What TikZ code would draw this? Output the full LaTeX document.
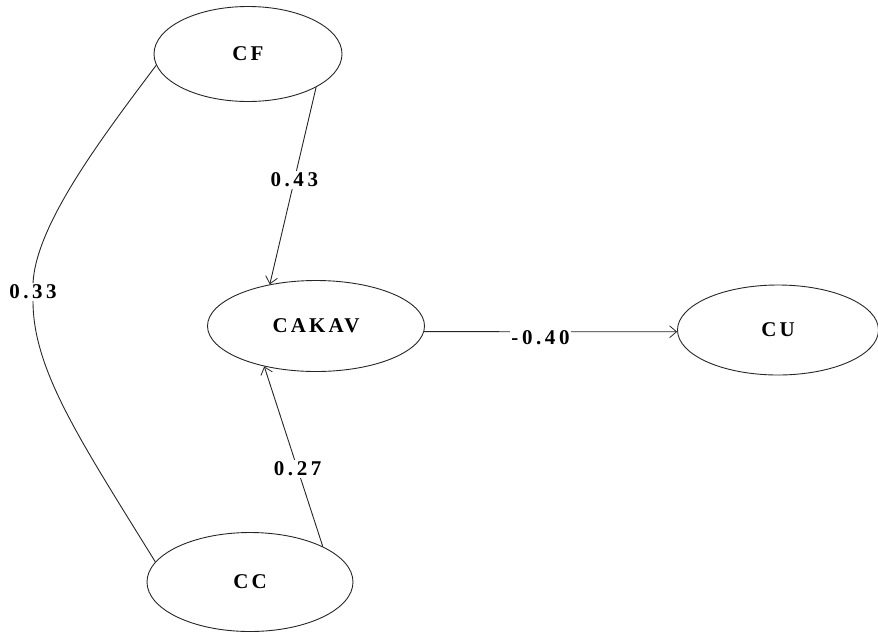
\documentclass[tikz,border=0pt]{standalone}
\usepackage{fontspec}
\setmainfont{Liberation Serif}
\newfontfamily\varfont[LetterSpace=15]{Liberation Serif}
\newfontfamily\coeffont[LetterSpace=17]{Liberation Serif}
\usetikzlibrary{arrows.meta, shapes.geometric}

\begin{document}
\begin{tikzpicture}[x=1pt, y=-1pt,
    latent/.style={ellipse, draw=black!85, line width=0.9pt, inner sep=0pt,
                   font=\varfont\bfseries\fontsize{21}{21}\selectfont},
    path/.style={draw=black!85, line width=0.9pt,
                 -{Straight Barb[length=7pt, width=12pt, line width=0.8pt]}},
    link/.style={draw=black!85, line width=0.9pt},
    coef/.style={fill=white, inner sep=1.5pt,
                 font=\coeffont\bfseries\fontsize{21}{21}\selectfont}]
  \useasboundingbox (0,0) rectangle (878,635);

  % latente variabelen
  \node[latent, minimum width=188pt, minimum height=95pt] (cf) at (248,54) {CF};
  \node[latent, minimum width=217pt, minimum height=91pt] (cakav) at (316,326) {CAKAV};
  \node[latent, minimum width=201pt, minimum height=90pt] (cu) at (778,330) {CU};
  \node[latent, minimum width=206pt, minimum height=99pt] (cc) at (250,582) {CC};

  % paden
  \draw[path] (cf.334) -- node[coef, pos=0.47] {0.43} (cakav.138);
  \draw[path] (cc.26) -- node[coef, pos=0.43] {0.27} (cakav.218);
  \draw[path] (cakav.-3) -- node[coef, pos=0.46, yshift=-6pt] {-0.40} (cu.181);

  % correlatie CF -- CC
  \node[coef] (r33) at (33,292) {0.33};
  \draw[link] (cf.187) .. controls (100,140) and (36,225) .. (r33.north);
  \draw[link] (r33.south) .. controls (33,370) and (80,440) .. (cc.168);
\end{tikzpicture}
\end{document}
